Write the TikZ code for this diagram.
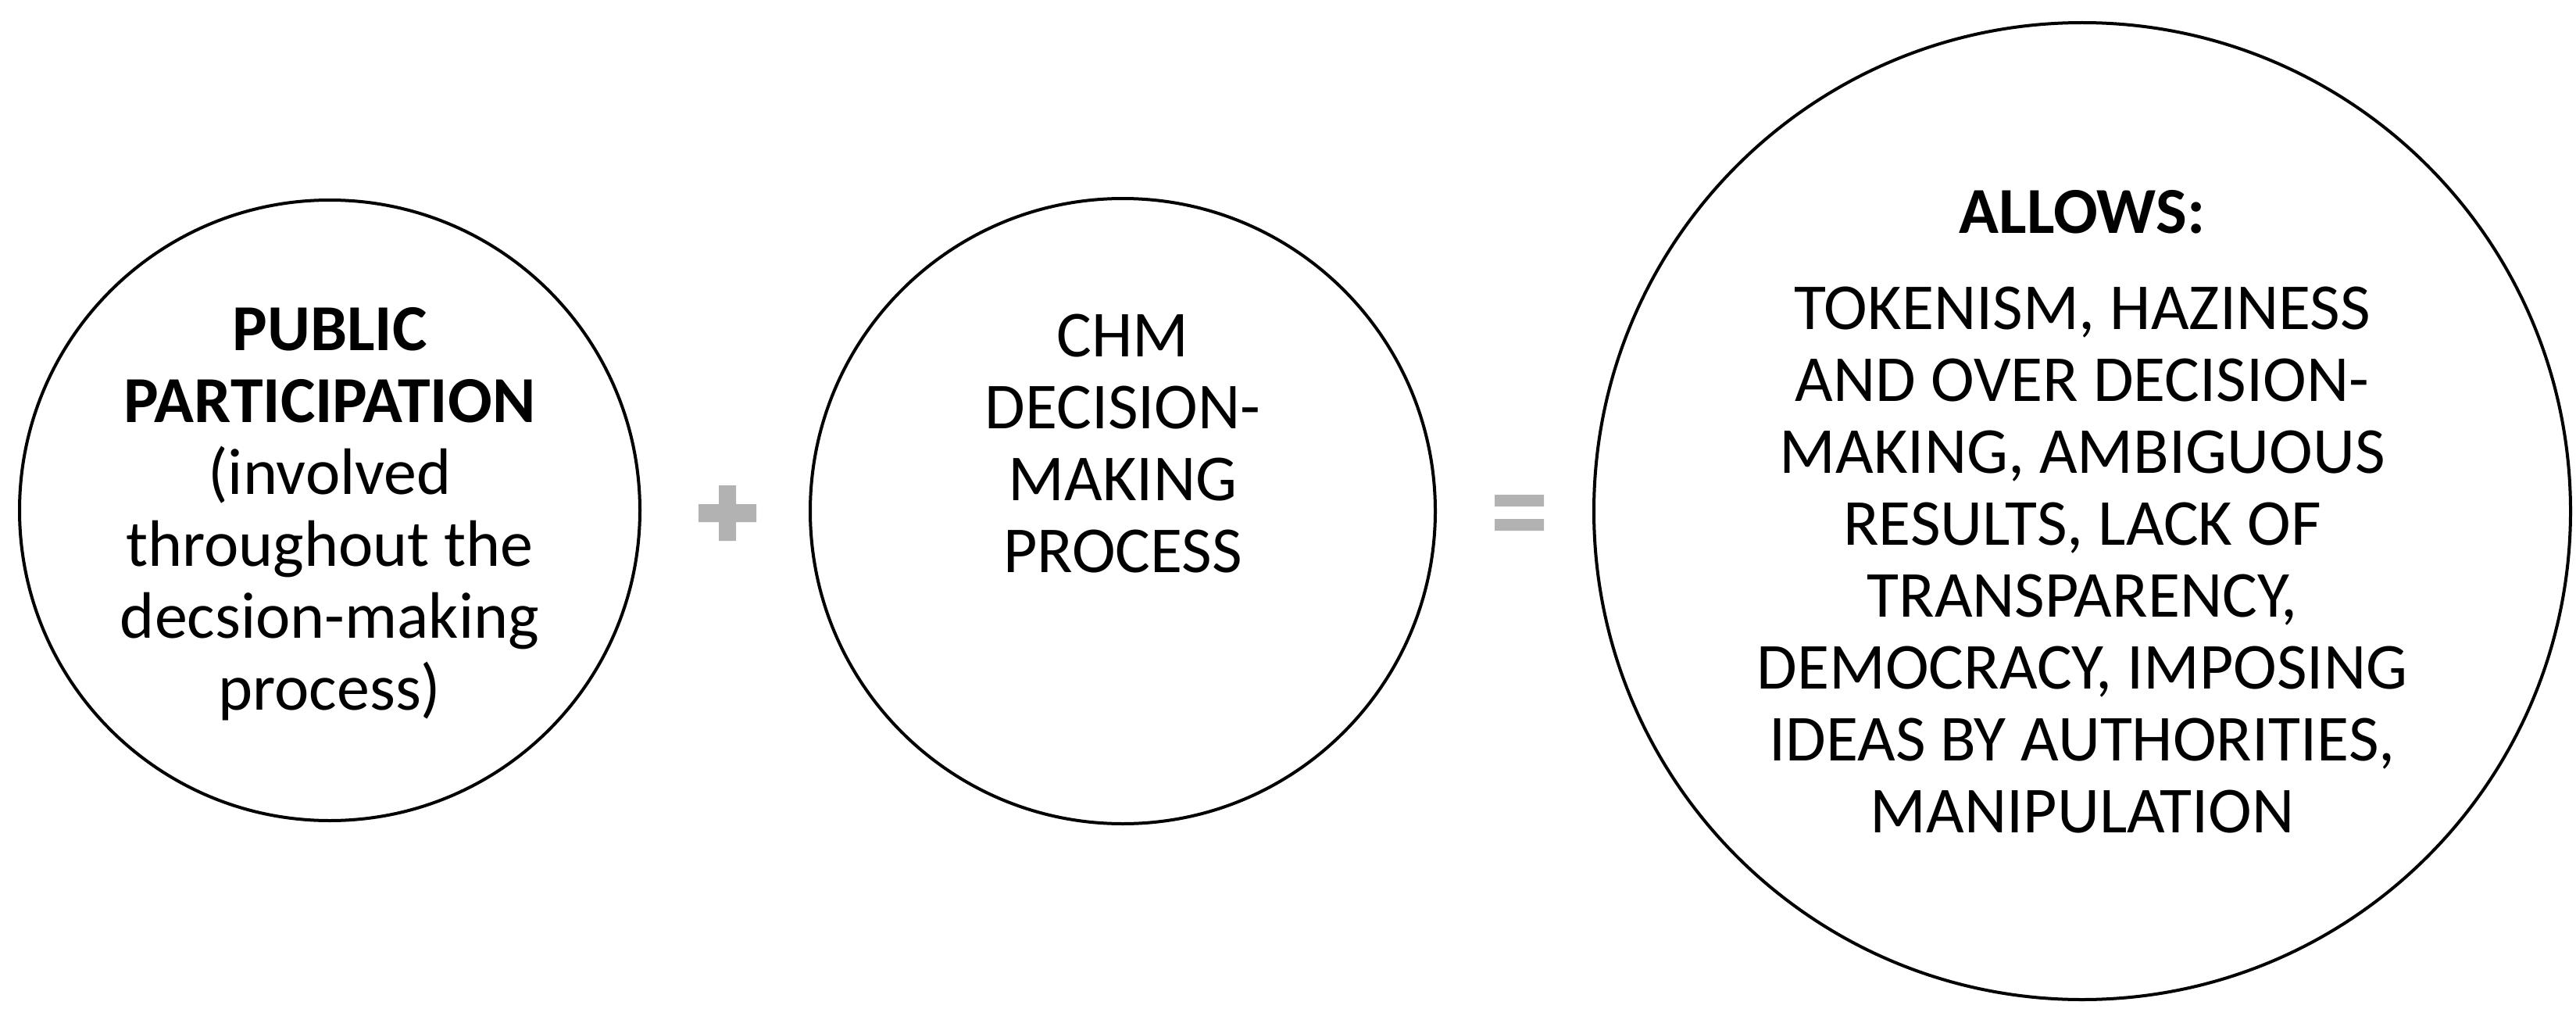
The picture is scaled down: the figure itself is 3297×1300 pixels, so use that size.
\documentclass[tikz,border=0pt]{standalone}
\usepackage{fontspec}
\setmainfont{Carlito}
\begin{document}
\begin{tikzpicture}[x=0.5pt,y=-0.5pt,
  circ/.style={draw,line width=2pt,circle},
  txt/.style={align=center,font=\fontsize{42}{46}\selectfont},
  sym/.style={fill=black!30,draw=none}]
\useasboundingbox (0,0) rectangle (3297,1300);
\node[circ,minimum size=397pt] (a) at (422,653) {};
\node[circ,minimum size=400pt] (b) at (1437,654) {};
\node[circ,minimum size=625pt] (c) at (2665,654) {};
\node[txt] (ta) at (422,658) {\textbf{PUBLIC}\\\textbf{PARTICIPATION}\\(involved\\throughout the\\decsion-making\\process)};
\node[txt] (tb) at (1437,568) {CHM\\DECISION-\\MAKING\\PROCESS};
\node[txt] (tc0) at (2665,271) {\textbf{ALLOWS:}};
\node[txt] (tc) at (2665,717) {TOKENISM, HAZINESS\\AND OVER DECISION-\\MAKING, AMBIGUOUS\\RESULTS, LACK OF\\TRANSPARENCY,\\DEMOCRACY, IMPOSING\\IDEAS BY AUTHORITIES,\\MANIPULATION};
\path[sym] (894,645) rectangle (968,668) (920,621) rectangle (942,692);
\path[sym] (1913,633) rectangle (1976,648) (1913,664) rectangle (1976,679);
\end{tikzpicture}
\end{document}
